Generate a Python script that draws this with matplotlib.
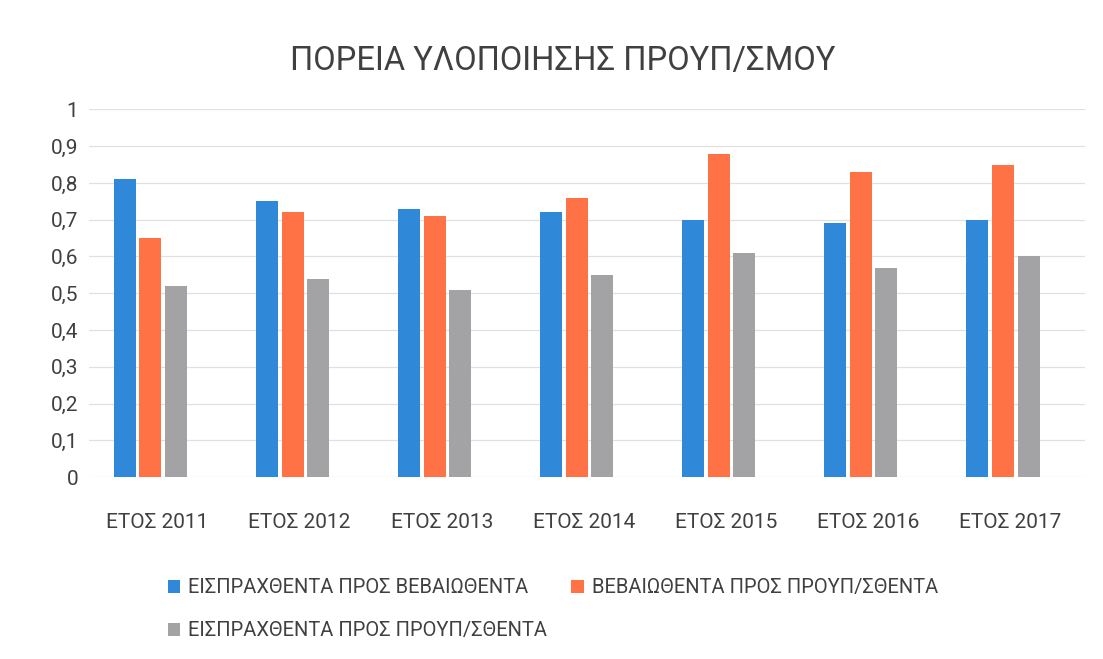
import matplotlib.pyplot as plt
import numpy as np

plt.rcParams['font.family'] = ['Roboto', 'DejaVu Sans']

# data
years = ['ΕΤΟΣ 2011', 'ΕΤΟΣ 2012', 'ΕΤΟΣ 2013', 'ΕΤΟΣ 2014',
         'ΕΤΟΣ 2015', 'ΕΤΟΣ 2016', 'ΕΤΟΣ 2017']
collected_vs_certified = [0.81, 0.75, 0.73, 0.72, 0.70, 0.69, 0.70]
certified_vs_budget = [0.65, 0.72, 0.71, 0.76, 0.88, 0.83, 0.85]
collected_vs_budget = [0.52, 0.54, 0.51, 0.55, 0.61, 0.57, 0.60]

labels = ['ΕΙΣΠΡΑΧΘΕΝΤΑ ΠΡΟΣ ΒΕΒΑΙΩΘΕΝΤΑ',
          'ΒΕΒΑΙΩΘΕΝΤΑ ΠΡΟΣ ΠΡΟΥΠ/ΣΘΕΝΤΑ',
          'ΕΙΣΠΡΑΧΘΕΝΤΑ ΠΡΟΣ ΠΡΟΥΠ/ΣΘΕΝΤΑ']
colors = ['#2F88D8', '#FF7246', '#A3A3A5']

fig = plt.figure(figsize=(11.03, 6.59), dpi=100)
ax = fig.add_axes([0.081, 0.276, 0.903, 0.558])

x = np.arange(len(years))
w = 0.155
step = 0.18
bars = []
for i, (vals, c, lab) in enumerate(zip(
        [collected_vs_certified, certified_vs_budget, collected_vs_budget], colors, labels)):
    bars.append(ax.bar(x + (i - 1) * step, vals, width=w, color=c, label=lab, zorder=3))

ax.set_xlim(-0.43, 6.58)
ax.set_ylim(0, 1)
ax.set_yticks(np.arange(0, 1.01, 0.1))
ax.set_yticklabels(['0'] + [f'0,{k}' for k in range(1, 10)] + ['1'], fontsize=15, color='#404040')
ax.set_xticks(x + 0.05)
ax.set_xticklabels(years, fontsize=15, color='#404040')
ax.tick_params(length=0)
ax.tick_params(axis='y', pad=8)
ax.tick_params(axis='x', pad=26)
ax.grid(axis='y', color='#E0E0E0', linewidth=0.9, zorder=0)
for s in ax.spines.values():
    s.set_visible(False)

fig.text(0.51, 0.908, 'ΠΟΡΕΙΑ ΥΛΟΠΟΙΗΣΗΣ ΠΡΟΥΠ/ΣΜΟΥ', ha='center', va='center',
         fontsize=23.5, color='#404040')

# Excel style legend: two entries in the first row, one in the second
fig.legend([bars[0], bars[2], bars[1]], [labels[0], labels[2], labels[1]],
           loc='upper left', bbox_to_anchor=(0.136, 0.15), ncol=2, frameon=False,
           fontsize=14.5, handlelength=0.6, handleheight=0.6, handletextpad=0.4,
           columnspacing=1.2, labelspacing=1.2, labelcolor='#404040')

fig.savefig('out.png', dpi=100, facecolor='white')
